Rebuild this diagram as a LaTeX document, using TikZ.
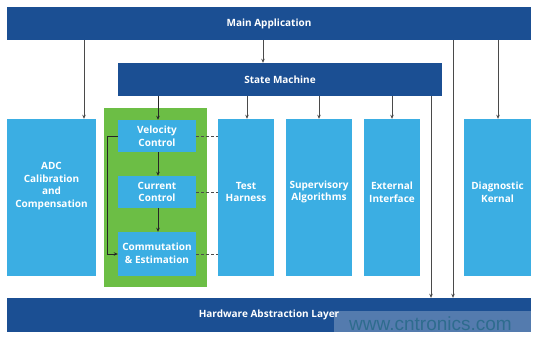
\documentclass[tikz,border=0pt]{standalone}
\usepackage{fontspec}
\setmainfont{Open Sans}
\newfontfamily\wmfont{Liberation Sans}
\usetikzlibrary{arrows.meta}
\definecolor{darkb}{HTML}{1B4F93}
\definecolor{lightb}{HTML}{3BAEE3}
\definecolor{grn}{HTML}{6CBE45}
\definecolor{linec}{HTML}{4A4A4A}
\definecolor{wmc}{HTML}{2E6C8E}
\tikzset{
  dbox/.style={fill=darkb, draw=none, inner sep=0pt},
  lbox/.style={fill=lightb, draw=none, inner sep=0pt},
  gbox/.style={fill=grn, draw=none, inner sep=0pt},
  txt/.style={text=white, font=\fontsize{10}{12.6}\selectfont\bfseries, align=center, inner sep=0pt},
  arr/.style={draw=linec, line width=0.9pt, -{Stealth[length=4pt,width=3.5pt]}},
  iarr/.style={draw=black!85, line width=1pt, -{Stealth[length=4pt,width=3.5pt]}},
  dashline/.style={draw=linec, line width=0.9pt, dash pattern=on 3pt off 2pt}
}
\begin{document}
\begin{tikzpicture}[x=1pt,y=-1pt]
\useasboundingbox (0,0) rectangle (534,341);
% boxes
\node[dbox, minimum width=524pt, minimum height=33pt] (main) at (269,23.5) {};
\node[dbox, minimum width=324pt, minimum height=33pt] (sm) at (280,79.5) {};
\node[lbox, minimum width=89pt, minimum height=157pt] (adc) at (51.5,197.5) {};
\node[gbox, minimum width=103pt, minimum height=179pt] (grp) at (155.5,197.5) {};
\node[lbox, minimum width=78pt, minimum height=32pt] (vel) at (157,136) {};
\node[lbox, minimum width=78pt, minimum height=32pt] (cur) at (157,192) {};
\node[lbox, minimum width=78pt, minimum height=44pt] (com) at (157,254) {};
\node[lbox, minimum width=56pt, minimum height=157pt] (test) at (246,197.5) {};
\node[lbox, minimum width=66pt, minimum height=157pt] (sup) at (319,197.5) {};
\node[lbox, minimum width=56pt, minimum height=157pt] (ext) at (392,197.5) {};
\node[lbox, minimum width=67pt, minimum height=157pt] (diag) at (497.5,197.5) {};
\node[dbox, minimum width=524pt, minimum height=34pt] (hal) at (269,315) {};
% texts
\node[txt] (tmain) at (269,23.5) {Main Application};
\node[txt] (tsm) at (280,79.5) {State Machine};
\node[txt] (tadc) at (51.5,186) {ADC\\Calibration\\and\\Compensation};
\node[txt] (tvel) at (157,136) {Velocity\\Control};
\node[txt] (tcur) at (157,192) {Current\\Control};
\node[txt] (tcom) at (157,253) {Commutation\\\& Estimation};
\node[txt] (ttest) at (246,192) {Test\\Harness};
\node[txt] (tsup) at (319,192) {Supervisory\\Algorithms};
\node[txt] (text) at (392,192) {External\\Interface};
\node[txt] (tdiag) at (497.5,192) {Diagnostic\\Kernal};
\node[txt] (thal) at (269,315) {Hardware Abstraction Layer};
% x positions of connectors
\coordinate (xa) at (84,0);
\coordinate (xs) at (263,0);
\coordinate (xv) at (158,0);
\coordinate (xt) at (247,0);
\coordinate (xsu) at (319,0);
\coordinate (xe) at (392,0);
\coordinate (xd) at (498,0);
\coordinate (xh1) at (431,0);
\coordinate (xh2) at (453,0);
% connectors
\draw[arr] (main.south -| xa) -- (adc.north -| xa);
\draw[arr] (main.south -| xs) -- (sm.north -| xs);
\draw[arr] (main.south -| xd) -- (diag.north -| xd);
\draw[arr] (main.south -| xh2) -- (hal.north -| xh2);
\draw[arr] (sm.south -| xh1) -- (hal.north -| xh1);
\draw[iarr] (sm.south -| xv) -- (vel.north -| xv);
\draw[arr] (sm.south -| xt) -- (test.north -| xt);
\draw[arr] (sm.south -| xsu) -- (sup.north -| xsu);
\draw[arr] (sm.south -| xe) -- (ext.north -| xe);
\draw[iarr] (vel.south -| xv) -- (cur.north -| xv);
\draw[iarr] (cur.south -| xv) -- (com.north -| xv);
\draw[iarr] (vel.west) -- ++(-10,0) |- (com.west);
\draw[dashline] (vel.east) -- (test.west |- vel.east);
\draw[dashline] (cur.east) -- (test.west |- cur.east);
\draw[dashline] (com.east) -- (test.west |- com.east);
% watermark
\fill[white, opacity=0.25] (334,311) rectangle (531,332);
\node[text=wmc, font=\wmfont\fontsize{19}{20}\selectfont, anchor=base west, inner sep=0pt] (wm) at (349,330) {www.cntronics.com};
\end{tikzpicture}
\end{document}
